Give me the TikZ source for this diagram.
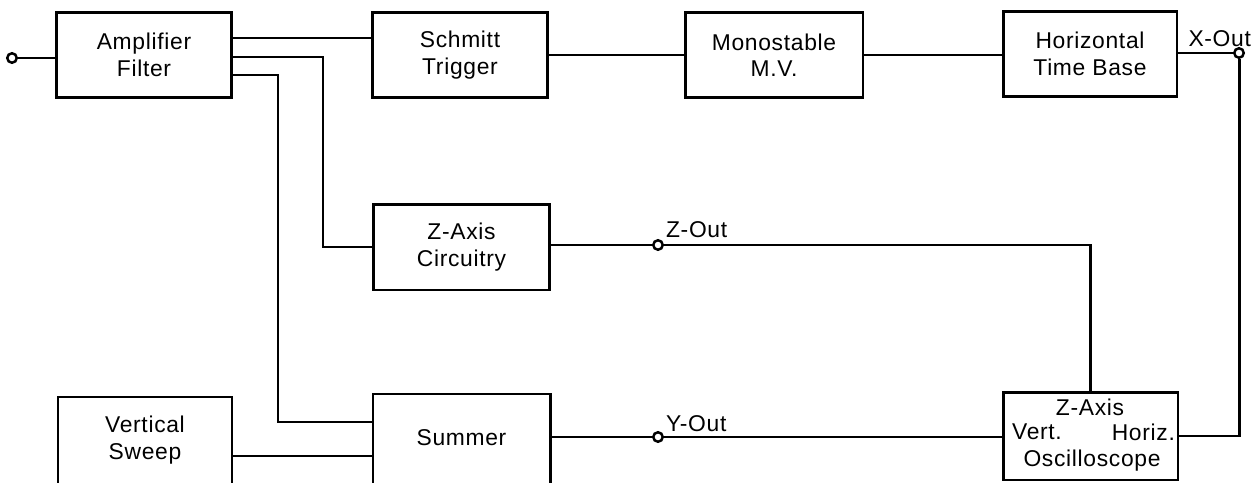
\documentclass[tikz,border=0pt]{standalone}
\usepackage{fontspec}
\setmainfont[LetterSpace=3]{Liberation Sans}
\begin{document}
\begin{tikzpicture}[x=0.02cm,y=-0.02cm,
  every node/.style={font=\fontsize{13}{15}\selectfont},
  blk/.style={draw, line width=1.7pt, align=center, inner sep=0pt},
  txt/.style={align=center, inner sep=1pt},
  port/.style={circle, draw, fill=white, line width=1.4pt, minimum size=0.19cm, inner sep=0pt},
  wire/.style={line width=1.7pt},
  lbl/.style={inner sep=1pt}]
\useasboundingbox (0,0) rectangle (1254,483);
% blocks
\node[blk, minimum width=3.52cm, minimum height=1.72cm] (amp) at (144,55) {Amplifier\\Filter};
\node[blk, minimum width=3.52cm, minimum height=1.72cm] (sch) at (460,55) {Schmitt\\Trigger};
\node[blk, minimum width=3.56cm, minimum height=1.72cm] (mono) at (774,55) {Monostable\\M.V.};
\node[blk, minimum width=3.48cm, minimum height=1.72cm] (hor) at (1090,54) {Horizontal\\Time Base};
\node[blk, minimum width=3.54cm, minimum height=1.72cm] (zax) at (461.5,247) {Z-Axis\\Circuitry};
\node[blk, minimum width=3.50cm, minimum height=1.76cm] (osc) at (1090.5,436) {};
\node[txt] (oz) at (1090,407) {Z-Axis};
\node[txt, anchor=west] (ov) at (1010,432) {Vert.};
\node[txt, anchor=east] (oh) at (1177,432) {Horiz.};
\node[txt] (oo) at (1092,461) {Oscilloscope};
% open-bottom blocks (cut by the page edge)
\node[txt, minimum width=3.54cm] (sum) at (461.5,438) {Summer};
\draw[wire] (373,483) -- (373,394) -- (550,394) -- (550,483);
\node[txt, minimum width=3.48cm] (vs) at (145,440) {Vertical\\Sweep};
\draw[wire] (58,483) -- (58,397) -- (232,397) -- (232,483);
% ports
\node[port] (in) at (12,58) {};
\node[port] (xo) at (1239,53) {};
\node[port] (zo) at (658,245) {};
\node[port] (yo) at (658,437) {};
\node[lbl, anchor=east] (xl) at (1253,39) {X-Out};
\node[lbl, anchor=west] (zl) at (664,230) {Z-Out};
\node[lbl, anchor=west] (yl) at (664,424) {Y-Out};
% connectors
\draw[wire] (in) -- (in -| amp.west);
\draw[wire] (amp.east |- 0,38) -- (sch.west |- 0,38);
\draw[wire] (amp.east |- 0,57) -| (323,247) -- (zax.west);
\draw[wire] (amp.east |- 0,75) -| (278,422) -- (373,422);
\draw[wire] (232,456) -- (373,456);
\draw[wire] (sch.east) -- (mono.west);
\draw[wire] (mono.east) -- (hor.west |- mono.east);
\draw[wire] (hor.east |- xo) -- (xo);
\draw[wire] (xo) |- (osc.east);
\draw[wire] (zax.east |- zo) -- (zo);
\draw[wire] (zo) -| (osc.north);
\draw[wire] (550,437) -- (yo);
\draw[wire] (yo) -- (osc.west |- yo);
\end{tikzpicture}
\end{document}
